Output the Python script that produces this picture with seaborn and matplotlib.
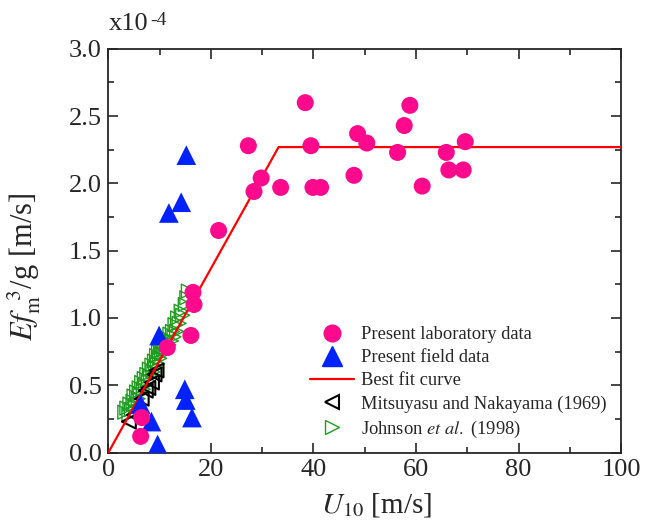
import numpy as np
import pandas as pd
import matplotlib
matplotlib.use("Agg")
import matplotlib.pyplot as plt
import seaborn as sns
from matplotlib.lines import Line2D
from matplotlib.ticker import MultipleLocator, FormatStrFormatter

# y values are in units of 1e-4 (see the x10^-4 label)
lab_u10 = [6.3, 6.5, 11.5, 16.1, 16.7, 16.5, 21.5, 27.3, 28.4, 29.8, 33.6, 38.4, 39.5,
           39.9, 41.4, 47.9, 48.6, 50.4, 56.4, 57.7, 58.8, 61.2, 65.9, 66.4, 69.2, 69.6]
lab_e = [0.12, 0.26, 0.78, 0.87, 1.10, 1.19, 1.65, 2.28, 1.94, 2.04, 1.97, 2.60, 2.28,
         1.97, 1.97, 2.06, 2.37, 2.30, 2.23, 2.43, 2.58, 1.98, 2.23, 2.10, 2.10, 2.31]

field_u10 = [6.3, 8.4, 9.6, 9.9, 11.8, 14.2, 14.9, 15.1, 15.2, 16.3]
field_e = [0.36, 0.23, 0.06, 0.87, 1.78, 1.86, 0.47, 0.39, 2.21, 0.26]

fit_u10 = [0.0, 33.2, 100.0]
fit_e = [0.0, 2.27, 2.27]

mitsu_u10 = [4.0, 5.0, 6.5, 7.3, 7.8, 8.5, 9.0, 9.4]
mitsu_e = [0.23, 0.28, 0.40, 0.46, 0.48, 0.52, 0.58, 0.61]

johnson_u10 = [3.2, 3.6, 4.0, 4.2, 4.5, 4.8, 5.0, 5.3, 5.5, 5.8, 6.0, 6.2, 6.5, 6.8, 7.0,
               7.2, 7.5, 7.8, 8.0, 8.2, 8.5, 8.7, 9.0, 9.2, 9.4, 9.6, 9.8, 10.0, 10.2, 10.4,
               10.6, 10.8, 11.0, 11.3, 11.5, 11.8, 12.0, 12.3, 12.5, 12.8, 13.0, 13.3, 13.5,
               13.8, 14.2, 14.5, 15.0, 15.3, 15.6]
johnson_e = [0.30, 0.33, 0.28, 0.36, 0.32, 0.38, 0.42, 0.35, 0.45, 0.40, 0.48, 0.44, 0.52,
             0.47, 0.55, 0.50, 0.58, 0.53, 0.62, 0.57, 0.65, 0.60, 0.68, 0.63, 0.72, 0.66,
             0.75, 0.70, 0.78, 0.73, 0.80, 0.76, 0.82, 0.78, 0.85, 0.80, 0.88, 0.83, 0.90,
             0.86, 0.95, 0.90, 1.00, 0.96, 1.05, 1.02, 1.10, 1.15, 1.20]

pink = "#ff0a8c"
blue = "#0022ff"
green = "#1f9c1f"

sns.set_style("ticks")
plt.rcParams["font.family"] = ["Liberation Serif", "DejaVu Serif"]
plt.rcParams["mathtext.fontset"] = "stix"

fig = plt.figure(figsize=(6.45, 5.25), dpi=100)
ax = fig.add_axes([0.168, 0.138, 0.795, 0.769])

sns.scatterplot(x=johnson_u10, y=johnson_e, ax=ax, marker=">", s=100, facecolor="none",
                edgecolor=green, linewidth=1.0, legend=False, zorder=2)
sns.scatterplot(x=mitsu_u10, y=mitsu_e, ax=ax, marker="<", s=100, facecolor="none",
                edgecolor="black", linewidth=1.5, legend=False, zorder=3)
sns.lineplot(x=fit_u10, y=fit_e, ax=ax, color="red", linewidth=1.6, legend=False,
             zorder=4, estimator=None, sort=False)
sns.scatterplot(x=field_u10, y=field_e, ax=ax, marker="^", s=200, color=blue,
                edgecolor="none", legend=False, zorder=5)
sns.scatterplot(x=lab_u10, y=lab_e, ax=ax, marker="o", s=150, color=pink,
                edgecolor="none", legend=False, zorder=6)

ax.set_xlim(0, 100)
ax.set_ylim(0, 3.0)
ax.xaxis.set_major_locator(MultipleLocator(20))
ax.xaxis.set_minor_locator(MultipleLocator(10))
ax.yaxis.set_major_locator(MultipleLocator(0.5))
ax.yaxis.set_minor_locator(MultipleLocator(0.25))
ax.yaxis.set_major_formatter(FormatStrFormatter("%.1f"))
ax.tick_params(which="both", direction="in", top=True, right=True, width=1.2)
ax.tick_params(which="major", length=7, labelsize=19, pad=5)
ax.tick_params(which="minor", length=4)
for sp in ax.spines.values():
    sp.set_linewidth(1.3)

ax.set_xlabel("$U_{10}$ [m/s]", fontsize=21)
ax.xaxis.set_label_coords(0.523, -0.095)
ax.set_ylabel("$Ef_{\\rm m}^{\\ \\ 3}$/g [m/s]", fontsize=22)
ax.yaxis.set_label_coords(-0.128, 0.46)
ax.text(0.0, 1.035, "x10", transform=ax.transAxes, fontsize=19, ha="left", va="bottom")
ax.text(0.081, 1.092, "-4", transform=ax.transAxes, fontsize=14, ha="left", va="top")

handles = [
    Line2D([], [], marker="o", ls="none", color=pink, markersize=12),
    Line2D([], [], marker="^", ls="none", color=blue, markersize=14),
    Line2D([], [], color="red", linewidth=1.6),
    Line2D([], [], marker="<", ls="none", mfc="none", mec="black", mew=1.5, markersize=10),
    Line2D([], [], marker=">", ls="none", mfc="none", mec=green, mew=1.0, markersize=10),
]
labels = ["Present laboratory data", "Present field data", "Best fit curve",
          "Mitsuyasu and Nakayama (1969)", "Johnson $\\it{et\\ al.}$ (1998)"]
ax.legend(handles, labels, frameon=False, fontsize=13.3, loc="lower left",
          bbox_to_anchor=(0.36, -0.01), handlelength=2.4, handletextpad=0.4,
          labelspacing=0.33)

fig.savefig("out.png", dpi=100)
